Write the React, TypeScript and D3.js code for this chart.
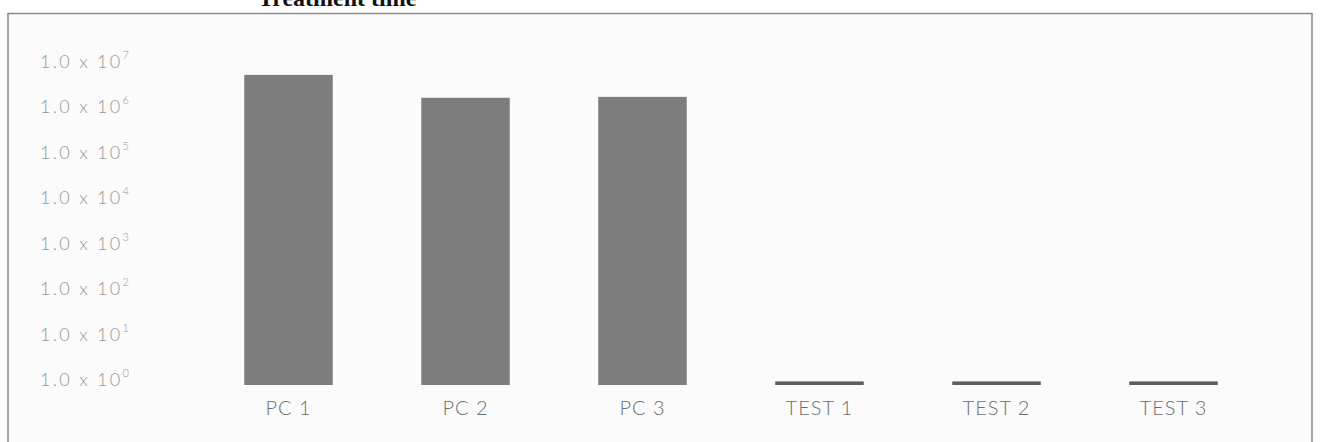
import React from 'react';
import * as d3 from 'd3';

// categories and values (log scale)
const categories = ['PC 1', 'PC 2', 'PC 3', 'TEST 1', 'TEST 2', 'TEST 3'];
const values = [6.7e6, 2.1e6, 2.2e6, 1.2, 1.2, 1.2];
const tickExponents = [0, 1, 2, 3, 4, 5, 6, 7];
const titleText = 'Treatment time';

const W = 1321;
const H = 442;

const App: React.FC = () => {
  const x = d3.scaleBand<string>().domain(categories).range([200, 1262]).paddingInner(0.5).paddingOuter(0.25);
  const y = d3.scaleLog().domain([1, 1e7]).range([385, 67]);

  return (
    <svg width={W} height={H} style={{ position: 'absolute', left: 0, top: 0, background: '#fff' }}>
      {/* title of the page above, cut off by the scan */}
      <text x={258} y={6} fontFamily="Liberation Serif" fontWeight="bold" fontSize={24} fill="#111">
        {titleText}
      </text>

      {/* chart frame */}
      <rect x={8} y={13.5} width={1304} height={440} fill="#fbfbfb" stroke="#8c8c8c" strokeWidth={1.5} />

      {/* y axis labels */}
      {tickExponents.map(e => (
        <text key={e} x={40} y={y(Math.pow(10, e)) + 1} fontFamily="Lato" fontWeight={300}
          fontSize={18} fill="#979797" letterSpacing={2.3}>
          1.0 x 10
          <tspan dx={0} dy={-9} fontSize={11} letterSpacing={0}>{e}</tspan>
        </text>
      ))}

      {/* bars */}
      {categories.map((c, i) => (
        <rect key={c} x={x(c)} y={y(values[i])} width={x.bandwidth()} height={y(1) - y(values[i])}
          fill={i < 3 ? '#7d7d7d' : '#5e5e5e'} />
      ))}

      {/* category labels */}
      {categories.map(c => (
        <text key={c} x={(x(c) ?? 0) + x.bandwidth() / 2} y={415} textAnchor="middle"
          fontFamily="Lato" fontWeight={300} fontSize={20} fill="#6c6c6c" letterSpacing={1}>
          {c}
        </text>
      ))}
    </svg>
  );
};

export default App;
